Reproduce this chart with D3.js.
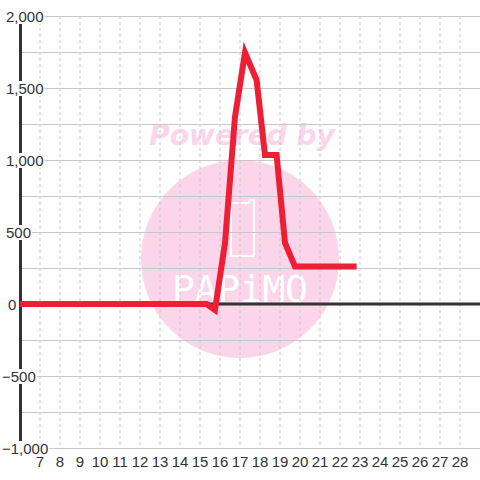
<!DOCTYPE html>
<html>
<head>
    <meta charset="utf-8">
    <style type="text/css">
        body { margin: 0; background: #fdfefd; }
        text { font-family: "Liberation Sans", Arial, sans-serif; }
    </style>
</head>
<body>
<svg id="graph" width="480" height="480"></svg>
<script src="https://d3js.org/d3.v7.min.js"></script>
<script type="text/javascript">
// data (x = day of month, y = value)
var days = [6, 15.33, 15.75, 16.25, 16.75, 17.25, 17.83, 18.25, 18.83, 19.25, 19.75, 22.83];
var values = [0, 0, -42, 424, 1300, 1745, 1555, 1035, 1035, 424, 260, 260];
var xTicks = [7, 8, 9, 10, 11, 12, 13, 14, 15, 16, 17, 18, 19, 20, 21, 22, 23, 24, 25, 26, 27, 28];
var yTicks = [2000, 1500, 1000, 500, 0, -500, -1000];
var yGrid = [2000, 1750, 1500, 1250, 1000, 750, 500, 250, 0, -250, -500, -750, -1000];

var bg = "#fdfefd";
var svg = d3.select("#graph");
svg.append("rect").attr("width", 480).attr("height", 480).attr("fill", bg);

var x = d3.scaleLinear().domain([6, 29]).range([20, 480]);
var y = d3.scaleLinear().domain([-1000, 2000]).range([448, 16]);

// watermark
var wm = svg.append("g");
wm.append("circle").attr("cx", 240).attr("cy", 259).attr("r", 99).attr("fill", "#fbd5ea");
wm.append("text").attr("x", 242).attr("y", 145)
    .attr("text-anchor", "middle")
    .style("font-family", "DejaVu Sans").style("font-weight", "bold").style("font-style", "italic")
    .style("font-size", "28px").attr("fill", "#fbd5ea")
    .text("Powered by");
wm.append("path")
    .attr("d", "M231,203 L249,203 L250,200 L254,200 L254,256 L231,256 Z")
    .attr("fill", "none").attr("stroke", "#fff").attr("stroke-width", 2).attr("stroke-linejoin", "round");
wm.append("text").attr("x", 172).attr("y", 302)
    .attr("textLength", 136).attr("lengthAdjust", "spacing")
    .style("font-family", "DejaVu Sans Mono").style("font-size", "38px")
    .attr("fill", "#fff")
    .text("PAPiMO");

// grid
svg.append("g").selectAll("line").data(xTicks).enter().append("line")
    .attr("x1", function(d) { return x(d); }).attr("x2", function(d) { return x(d); })
    .attr("y1", 16).attr("y2", 448)
    .attr("stroke", "#c8c8c8").attr("stroke-dasharray", "3,3");
svg.append("g").selectAll("line").data(yGrid).enter().append("line")
    .attr("x1", 20).attr("x2", 480)
    .attr("y1", function(d) { return y(d) + 0.5; }).attr("y2", function(d) { return y(d) + 0.5; })
    .attr("stroke", "#c8c8c8");

// axes lines
svg.append("line").attr("x1", 20.5).attr("x2", 20.5).attr("y1", 16).attr("y2", 448)
    .attr("stroke", "#333").attr("stroke-width", 3);
svg.append("line").attr("x1", 20).attr("x2", 480).attr("y1", y(0)).attr("y2", y(0))
    .attr("stroke", "#333").attr("stroke-width", 3);

// y labels with background boxes
var fmt = d3.format(",");
var yl = svg.append("g").selectAll("g").data(yTicks).enter().append("g");
var ytext = yl.append("text")
    .attr("x", function(d) { return d < 0 ? 2 : (d === 0 ? 8 : 6); })
    .attr("y", function(d) { return y(d) + 6; })
    .style("font-size", "15px").attr("fill", "#333")
    .text(function(d) { return fmt(d); });
ytext.each(function() {
    var b = this.getBBox();
    d3.select(this.parentNode).insert("rect", "text")
        .attr("x", b.x - 1).attr("y", b.y + 1).attr("width", b.width + 2).attr("height", b.height - 2)
        .attr("fill", bg);
});

// x labels
svg.append("g").selectAll("text").data(xTicks).enter().append("text")
    .attr("x", function(d) { return x(d); })
    .attr("y", 467)
    .attr("text-anchor", "middle")
    .style("font-size", "15px").attr("fill", "#333")
    .text(function(d) { return d; });

// series
var pts = days.map(function(d, i) { return [d, values[i]]; });
svg.append("path")
    .attr("d", d3.line().x(function(d) { return x(d[0]); }).y(function(d) { return y(d[1]); })(pts))
    .attr("fill", "none").attr("stroke", "#ee1f35").attr("stroke-width", 6);
</script>
</body>
</html>
